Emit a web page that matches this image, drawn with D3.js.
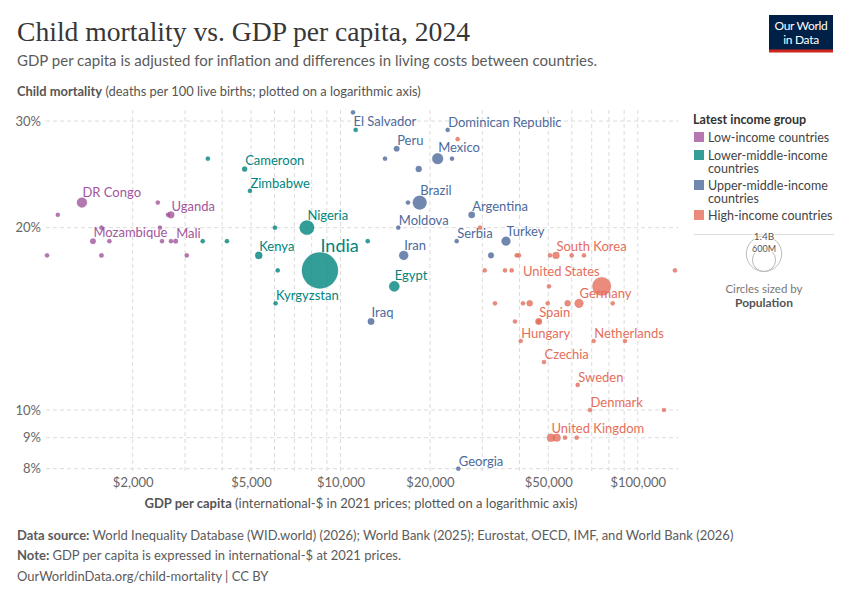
<!DOCTYPE html>
<html>
<head>
<meta charset="utf-8">
<script src="https://cdn.jsdelivr.net/npm/d3@7"></script>
<style>
  html, body { margin: 0; padding: 0; background: #fff; }
  svg { display: block; font-family: Lato, "Noto Sans", sans-serif; }
</style>
</head>
<body>
<svg id="chart" width="850" height="600"></svg>
<script>
// ---------------- DATA ----------------
const groups = ["Low-income countries", "Lower-middle-income countries", "Upper-middle-income countries", "High-income countries"];
const groupColors = ["#A2559C", "#00847E", "#4C6A9C", "#E56E5A"];

// [name, GDP per capita ($), child mortality (%), population]
const lowIncome = [
  [null, 1030, 18, 8e6], [null, 1120, 21, 8e6], ["DR Congo", 1350, 22, 110e6],
  ["Mozambique", 1470, 19, 34e6], [null, 1570, 18, 22e6], [null, 1570, 20, 8e6],
  [null, 1670, 19, 10e6], [null, 2430, 22, 10e6], [null, 2470, 20, 10e6],
  [null, 2510, 19, 10e6], [null, 2630, 21, 20e6], ["Uganda", 2690, 21, 50e6],
  [null, 2690, 19, 10e6], ["Mali", 2790, 19, 24e6], [null, 3040, 18, 10e6]
];
const lowerMiddleIncome = [
  [null, 3580, 26, 8e6], ["Cameroon", 4760, 25, 29e6], ["Zimbabwe", 4960, 23, 17e6],
  [null, 3440, 19, 8e6], [null, 4150, 19, 8e6], [null, 6020, 20, 20e6],
  ["Nigeria", 7710, 20, 230e6], ["Kenya", 5310, 18, 56e6], [null, 6150, 17, 8e6],
  ["Kyrgyzstan", 6050, 15, 7e6], ["India", 8530, 17, 1450e6], [null, 12350, 19, 8e6],
  ["Egypt", 15170, 16, 116e6], [null, 11250, 29, 6e6]
];
const upperMiddleIncome = [
  ["El Salvador", 11020, 31, 6e6], ["Dominican Republic", 22940, 29, 11e6],
  ["Peru", 15450, 27, 34e6], [null, 14120, 26, 8e6], ["Mexico", 21230, 26, 130e6],
  [null, 23720, 26, 8e6], [null, 18330, 25, 40e6], ["Brazil", 18470, 22, 212e6],
  [null, 16870, 22, 8e6], ["Argentina", 27630, 21, 46e6], ["Moldova", 15650, 20, 3e6],
  ["Serbia", 24600, 19, 7e6], ["Turkey", 36040, 19, 86e6], ["Iran", 16320, 18, 91e6],
  [null, 32090, 18, 35e6], ["Iraq", 12670, 14, 46e6], ["Georgia", 24900, 8, 4e6]
];
const highIncome = [
  [null, 24790, 28, 5e6], [null, 29460, 20, 5e6], ["South Korea", 53080, 18, 52e6],
  [null, 39150, 18, 8e6], [null, 39850, 18, 8e6], [null, 50670, 18, 8e6],
  [null, 59950, 18, 10e6], [null, 65940, 18, 8e6], [null, 30560, 17, 5e6],
  [null, 35760, 17, 5e6], [null, 37660, 17, 5e6], [null, 133400, 17, 5e6],
  ["United States", 75640, 16, 380e6], [null, 50280, 16, 5e6], [null, 33090, 15, 5e6],
  [null, 41110, 15, 8e6], [null, 43300, 15, 40e6], [null, 49780, 15, 8e6],
  [null, 58100, 15, 40e6], ["Germany", 63440, 15, 84e6], [null, 82360, 15, 6e6],
  [null, 38640, 14, 6e6], ["Spain", 46430, 14, 48e6], [null, 46430, 14, 20e6],
  ["Hungary", 40380, 13, 10e6], ["Netherlands", 71080, 13, 18e6], [null, 90580, 13, 6e6],
  ["Czechia", 48370, 12, 11e6], ["Sweden", 62800, 11, 10e6], ["Denmark", 69070, 10, 6e6],
  [null, 122500, 10, 5e6], ["United Kingdom", 51060, 9, 69e6], [null, 53370, 9, 66e6],
  [null, 56910, 9, 10e6], [null, 62320, 9, 8e6]
];
const seriesByGroup = [lowIncome, lowerMiddleIncome, upperMiddleIncome, highIncome];

const xTickValues = [2000, 5000, 10000, 20000, 50000, 100000];
const xGridValues = [2000, 3000, 4000, 5000, 6000, 7000, 8000, 9000, 10000, 20000, 30000, 40000, 50000, 60000, 70000, 80000, 90000, 100000];
const yTickValues = [8, 9, 10, 20, 30];
const sizeLegendValues = [1.4e9, 600e6];
const sizeLegendLabels = ["1.4B", "600M"];

// label placement exceptions (layout only)
const labelPlacement = { "El Salvador": "below", "United States": "left" };

// ---------------- CHART ----------------
const svg = d3.select("#chart");
const points = [];
seriesByGroup.forEach((arr, gi) => arr.forEach(d => points.push({ name: d[0], gdp: d[1], cm: d[2], pop: d[3], g: gi })));

const x = d3.scaleLog().domain([1000, 137000]).range([43.2, 678.4]);
const y = d3.scaleLog().domain([7.9, 31.5]).range([472, 108.2]);
const r = d3.scaleSqrt().domain([0, 1450e6]).range([0, 18]);
const rad = d => Math.max(2.1, r(d.pop));

const textGrey = "#5b5b5b";

// Title
svg.append("text").attr("x", 17).attr("y", 41)
  .attr("font-family", "'Liberation Serif', 'DejaVu Serif', serif")
  .attr("font-size", 28).attr("fill", "#373737")
  .attr("textLength", 453).attr("lengthAdjust", "spacingAndGlyphs")
  .text("Child mortality vs. GDP per capita, 2024");
svg.append("text").attr("x", 17).attr("y", 66)
  .attr("font-size", 15).attr("fill", textGrey)
  .text("GDP per capita is adjusted for inflation and differences in living costs between countries.");

// Logo
const logo = svg.append("g");
logo.append("rect").attr("x", 769).attr("y", 15).attr("width", 64).attr("height", 37).attr("fill", "#002147");
logo.append("rect").attr("x", 769).attr("y", 49.5).attr("width", 64).attr("height", 3).attr("fill", "#CE261E");
logo.append("text").attr("x", 801).attr("y", 30).attr("text-anchor", "middle").attr("fill", "#fff")
  .attr("font-size", 12).attr("letter-spacing", -0.3).text("Our World");
logo.append("text").attr("x", 801).attr("y", 44).attr("text-anchor", "middle").attr("fill", "#fff")
  .attr("font-size", 12).attr("letter-spacing", -0.3).text("in Data");

// Y axis title
const yt = svg.append("text").attr("x", 17).attr("y", 96).attr("font-size", 12.9).attr("fill", "#555");
yt.append("tspan").attr("font-weight", "bold").text("Child mortality");
yt.append("tspan").text(" (deaths per 100 live births; plotted on a logarithmic axis)");

// Gridlines
const grid = svg.append("g").attr("stroke", "#dcdcdc").attr("stroke-dasharray", "4,3").attr("stroke-width", 1);
grid.selectAll("line.v").data(xGridValues).join("line")
  .attr("x1", d => x(d)).attr("x2", d => x(d)).attr("y1", 110).attr("y2", 474);
grid.selectAll("line.h").data(yTickValues).join("line")
  .attr("x1", 46).attr("x2", 678).attr("y1", d => y(d)).attr("y2", d => y(d));

// Axes
const yAxis = svg.append("g").attr("transform", "translate(46,0)")
  .call(d3.axisLeft(y).tickValues(yTickValues).tickFormat(d => d + "%").tickSize(0).tickPadding(5));
yAxis.select(".domain").remove();
yAxis.selectAll("text").attr("font-size", 13).attr("fill", "#666").attr("font-family", "Lato, sans-serif");

const xAxis = svg.append("g").attr("transform", "translate(0,478)")
  .call(d3.axisBottom(x).tickValues(xTickValues).tickFormat(d => "$" + d3.format(",")(d)).tickSize(0).tickPadding(0));
xAxis.select(".domain").remove();
xAxis.selectAll("text").attr("font-size", 13).attr("fill", "#666").attr("font-family", "Lato, sans-serif").attr("dy", "0.71em");

const xt = svg.append("text").attr("x", 361).attr("y", 508).attr("text-anchor", "middle").attr("font-size", 13).attr("fill", "#555");
xt.append("tspan").attr("font-weight", "bold").text("GDP per capita");
xt.append("tspan").text(" (international-$ in 2021 prices; plotted on a logarithmic axis)");

// Points
const sorted = points.slice().sort((a, b) => b.pop - a.pop);
svg.append("g").selectAll("circle").data(sorted).join("circle")
  .attr("cx", d => x(d.gdp)).attr("cy", d => y(d.cm)).attr("r", rad)
  .attr("fill", d => groupColors[d.g]).attr("fill-opacity", 0.8)
  .attr("stroke", d => d3.color(groupColors[d.g]).darker(0.3)).attr("stroke-opacity", 0.5).attr("stroke-width", 0.5);

// Labels
const labelled = points.filter(d => d.name);
svg.append("g").selectAll("text").data(labelled).join("text")
  .attr("font-size", d => d.name === "India" ? 18 : 13)
  .attr("fill", d => groupColors[d.g])
  .attr("text-anchor", d => labelPlacement[d.name] === "left" ? "end" : "start")
  .attr("x", d => labelPlacement[d.name] === "left" ? x(d.gdp) - 2 : x(d.gdp) + 0.5)
  .attr("y", d => {
    const cy = y(d.cm), rr = rad(d);
    if (labelPlacement[d.name] === "below") return cy + rr + 11;
    if (labelPlacement[d.name] === "left") return cy - rr - 1;
    return cy - rr - (d.name === "India" ? 0 : 1);
  })
  .text(d => d.name);

// Legend
const lg = svg.append("g");
lg.append("text").attr("x", 693).attr("y", 124).attr("font-size", 12.5).attr("font-weight", "bold").attr("fill", "#333").text("Latest income group");
const legendLines = [["Low-income countries"], ["Lower-middle-income", "countries"], ["Upper-middle-income", "countries"], ["High-income countries"]];
let ly = 137;
legendLines.forEach((lines, i) => {
  lg.append("rect").attr("x", 694).attr("y", ly - 5).attr("width", 10).attr("height", 10)
    .attr("fill", groupColors[i]).attr("fill-opacity", 0.8);
  lines.forEach((t, j) => {
    lg.append("text").attr("x", 708).attr("y", ly + 4.5 + j * 13.5).attr("font-size", 12.5).attr("fill", "#444").text(t);
  });
  ly += lines.length === 1 ? 18 : 30;
});
lg.append("line").attr("x1", 694).attr("x2", 834).attr("y1", 234.5).attr("y2", 234.5).attr("stroke", "#ddd");

const sizeCx = 764, sizeBottom = 271.5;
sizeLegendValues.forEach((v, i) => {
  const rr = r(v);
  lg.append("circle").attr("cx", sizeCx).attr("cy", sizeBottom - rr).attr("r", rr)
    .attr("fill", "none").attr("stroke", "#bbb").attr("stroke-width", 1);
  lg.append("text").attr("x", sizeCx).attr("y", sizeBottom - 2 * rr + 3.5).attr("text-anchor", "middle")
    .attr("font-size", i === 0 ? 10 : 9).attr("fill", "#555")
    .attr("paint-order", "stroke").attr("stroke", "#fff").attr("stroke-width", 2)
    .text(sizeLegendLabels[i]);
});
lg.append("text").attr("x", sizeCx).attr("y", 293).attr("text-anchor", "middle").attr("font-size", 11.5).attr("fill", "#777").text("Circles sized by");
lg.append("text").attr("x", sizeCx).attr("y", 307).attr("text-anchor", "middle").attr("font-size", 12).attr("font-weight", "bold").attr("fill", "#555").text("Population");

// Footer
const f1 = svg.append("text").attr("x", 17).attr("y", 540).attr("font-size", 13).attr("fill", textGrey);
f1.append("tspan").attr("font-weight", "bold").text("Data source: ");
f1.append("tspan").text("World Inequality Database (WID.world) (2026); World Bank (2025); Eurostat, OECD, IMF, and World Bank (2026)");
const f2 = svg.append("text").attr("x", 17).attr("y", 560).attr("font-size", 13).attr("fill", textGrey);
f2.append("tspan").attr("font-weight", "bold").text("Note: ");
f2.append("tspan").text("GDP per capita is expressed in international-$ at 2021 prices.");
svg.append("text").attr("x", 17).attr("y", 581).attr("font-size", 13).attr("fill", textGrey).text("OurWorldinData.org/child-mortality | CC BY");
</script>
</body>
</html>
